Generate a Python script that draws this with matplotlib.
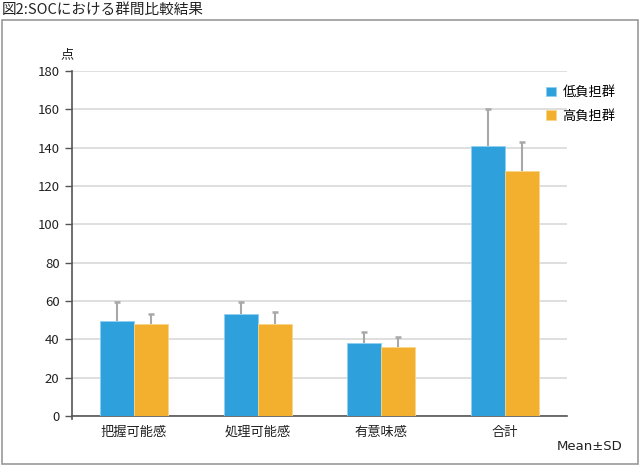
import matplotlib
matplotlib.use("Agg")
import matplotlib.pyplot as plt
import numpy as np
from matplotlib.patches import Rectangle

plt.rcParams['font.family'] = ['Noto Sans CJK JP', 'DejaVu Sans']

categories = ['把握可能感', '処理可能感', '有意味感', '合計']
series_names = ['低負担群', '高負担群']
low_mean = [49.5, 53, 38, 141]
low_sd = [10, 6.5, 6, 19]
high_mean = [48, 48, 36, 128]
high_sd = [5, 6.5, 5, 15]
colors = ['#2ea1dd', '#f2b02e']

fig = plt.figure(figsize=(6.4, 4.66), dpi=100)
fig.patches.append(Rectangle((2/640, 2/466), 636/640, 444/466, transform=fig.transFigure,
                             fill=False, edgecolor='#9a9a9a', linewidth=1.2))
fig.text(2/640, 1 - 10/466, '図2:SOCにおける群間比較結果', fontsize=10.5, va='center', ha='left', color='#222222')

ax = fig.add_axes([72/640, 1 - 416/466, 495/640, 345/466])
x = np.arange(len(categories))
w = 0.275
ecol = '#a8a8a8'
for offs, means, sds, col, edge, name in [(-w/2, low_mean, low_sd, colors[0], '#8fd0f0', series_names[0]),
                                          (w/2, high_mean, high_sd, colors[1], '#f8d58a', series_names[1])]:
    ax.bar(x + offs, means, w, color=col, edgecolor=edge, linewidth=0.6, label=name, zorder=3)
    tops = np.array(means) + np.array(sds)
    ax.vlines(x + offs, means, tops, color=ecol, linewidth=1.5, zorder=2)
    ax.plot(x + offs, tops, linestyle='none', marker='_', markersize=5, markeredgewidth=1.8,
            color=ecol, zorder=2)

ax.set_xlim(-0.5, 3.5)
ax.set_ylim(0, 180)
ax.set_yticks(np.arange(0, 181, 20))
ax.yaxis.grid(True, color='#d9d9d9', linewidth=1.2, zorder=0)
ax.set_axisbelow(True)
for s in ['top', 'right']:
    ax.spines[s].set_visible(False)
ax.spines['left'].set_color('#555555')
ax.spines['bottom'].set_color('#555555')
ax.spines['left'].set_linewidth(1.2)
ax.spines['bottom'].set_linewidth(1.2)
ax.spines['left'].set_bounds(-1.5, 180)
ax.set_xticks(x)
ax.set_xticklabels(categories, fontsize=9.5, color='#222222')
ax.tick_params(axis='x', length=0, pad=7)
ax.tick_params(axis='y', length=5, width=1.0, color='#555555', labelsize=9.5, labelcolor='#222222', pad=4)
ax.set_ylim(0, 180)

fig.text(67/640, 1 - 55/466, '点', fontsize=9.5, ha='center', va='center', color='#222222')
fig.text(623/640, 1 - 446/466, 'Mean±SD', fontsize=9.5, ha='right', va='center', color='#222222',
         family=['DejaVu Sans'])

ax.legend(loc='upper left', bbox_to_anchor=(546/640, 1 - 86/466), bbox_transform=fig.transFigure,
          frameon=False, fontsize=9.5, handlelength=0.75, handleheight=0.75, handletextpad=0.5,
          labelspacing=0.8, borderaxespad=0, borderpad=0)

fig.savefig('out.png', dpi=100)
